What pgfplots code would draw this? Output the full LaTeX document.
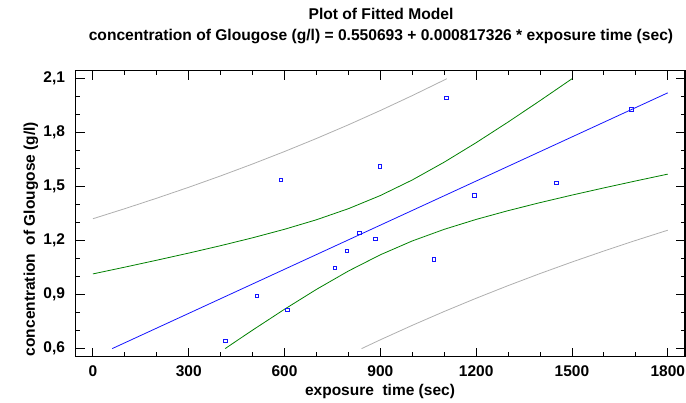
\documentclass[border=0pt]{standalone}
\usepackage{pgfplots}
\pgfplotsset{compat=1.18}
\usepackage{fontspec}
\setmainfont{Liberation Sans}
\definecolor{fitblue}{RGB}{20,20,255}
\definecolor{bandgreen}{RGB}{0,128,0}
\definecolor{bandgrey}{RGB}{175,175,175}
\begin{document}
\begin{tikzpicture}
\useasboundingbox (-75.7pt,-46.3pt) rectangle (610.3pt,356.7pt);
\begin{axis}[
  at={(0pt,0pt)}, anchor=south west,
  scale only axis, width=609.3pt, height=286pt,
  xmin=-54, xmax=1854, ymin=0.555, ymax=2.145,
  xtick={0,300,600,900,1200,1500,1800},
  xticklabels={0,300,600,900,1200,1500,1800},
  ytick={0.6,0.9,1.2,1.5,1.8,2.1},
  yticklabels={{0,6},{0,9},{1,2},{1,5},{1,8},{2,1}},
  minor x tick num=2, minor y tick num=2,
  tick align=inside,
  major tick length=9pt, minor tick length=4.5pt,
  tick style={black, line width=0.9pt},
  axis line style={black, line width=1.2pt},
  /pgf/number format/assume math mode=true,
  every tick label/.append style={font=\fontsize{15.5}{17}\selectfont\bfseries, inner sep=0pt},
  xticklabel style={anchor=north, yshift=-9pt},
  yticklabel style={anchor=east, xshift=-10.5pt},
  clip=true,
]
\addplot[bandgrey, line width=0.8pt] coordinates {(0,1.3220) (100,1.3780) (200,1.4363) (300,1.4969) (400,1.5602) (500,1.6264) (600,1.6957) (700,1.7682) (800,1.8442) (900,1.9236) (1000,2.0066) (1100,2.0932) (1108,2.100)};
\addplot[bandgrey, line width=0.8pt] coordinates {(841.3,0.600) (900,0.6490) (1000,0.7294) (1100,0.8064) (1200,0.8799) (1300,0.9501) (1400,1.0172) (1500,1.0813) (1600,1.1426) (1700,1.2016) (1800,1.2582)};
\addplot[bandgreen, line width=0.8pt] coordinates {(0,1.0153) (100,1.0529) (200,1.0915) (300,1.1310) (400,1.1723) (500,1.2160) (600,1.2634) (700,1.3163) (800,1.3779) (900,1.4510) (1000,1.5375) (1100,1.6365) (1200,1.7448) (1300,1.8595) (1400,1.9784) (1500,2.1000)};
\addplot[bandgreen, line width=0.8pt] coordinates {(414,0.600) (450,0.6432) (500,0.7028) (600,0.8189) (700,0.9293) (800,1.0313) (900,1.1216) (1000,1.1985) (1100,1.2631) (1200,1.3182) (1300,1.3669) (1400,1.4115) (1500,1.4534) (1600,1.4934) (1700,1.5322) (1800,1.5700)};
\addplot[fitblue, line width=0.8pt] coordinates {(60.3,0.600) (1800,2.0219)};
\addplot[only marks, mark=square, mark size=1.7pt, mark options={fitblue, line width=0.8pt}] coordinates {
(415,0.642) (513,0.892) (589,1.539) (609,0.814) (757,1.048) (796,1.142) (835,1.244)
(884,1.209) (899,1.613) (1067,1.096) (1107,1.994) (1195,1.452) (1451,1.520) (1686,1.929)};
\end{axis}
\node[anchor=base, font=\fontsize{15.6}{17}\selectfont\bfseries] at (305.3pt,336.7pt) {Plot of Fitted Model};
\node[anchor=base, font=\fontsize{15.6}{17}\selectfont\bfseries] at (305.3pt,316pt) {concentration of Glougose (g/l) = 0.550693 + 0.000817326 * exposure time (sec)};
\node[anchor=base, font=\fontsize{15.5}{17}\selectfont\bfseries] at (304.3pt,-39pt) {exposure\ \ time (sec)};
\node[anchor=base, rotate=90, font=\fontsize{15.5}{17}\selectfont\bfseries] at (-40.7pt,117.7pt) {concentration\ \ of Glougose (g/l)};
\end{tikzpicture}
\end{document}
